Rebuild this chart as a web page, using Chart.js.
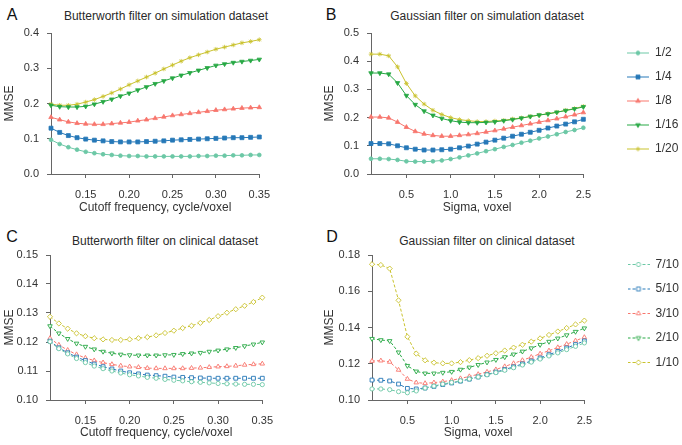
<!DOCTYPE html>
<html><head><meta charset="utf-8">
<script src="https://cdn.jsdelivr.net/npm/chart.js@4/dist/chart.umd.min.js"></script>
<style>
html,body{margin:0;padding:0;background:#fff;}
#wrap{position:relative;width:682px;height:445px;overflow:hidden;font-family:"Liberation Sans",Arial,sans-serif;color:#222;}
canvas{position:absolute;}
.lbl{position:absolute;transform:translate(-50%,-50%);white-space:nowrap;line-height:1;}
.letter{font-size:16px;color:#111;}
.ptitle{font-size:12px;color:#2a2a2a;}
</style></head><body>
<div id="wrap">
<div class="lbl letter" style="left:12px;top:15px">A</div>
<div class="lbl letter" style="left:331px;top:15px">B</div>
<div class="lbl letter" style="left:12px;top:237px">C</div>
<div class="lbl letter" style="left:332px;top:237px">D</div>
<div class="lbl ptitle" style="left:166px;top:15.5px">Butterworth filter on simulation dataset</div>
<div class="lbl ptitle" style="left:487px;top:15.5px">Gaussian filter on simulation dataset</div>
<div class="lbl ptitle" style="left:165px;top:240.5px">Butterworth filter on clinical dataset</div>
<div class="lbl ptitle" style="left:487px;top:240.5px">Gaussian filter on clinical dataset</div>
<canvas id="cA" width="280" height="215" style="left:0;top:0"></canvas>
<canvas id="cB" width="281" height="215" style="left:320px;top:0"></canvas>
<canvas id="cC" width="283" height="220" style="left:0;top:220px"></canvas>
<canvas id="cD" width="282" height="220" style="left:320px;top:220px"></canvas>
<canvas id="lg1" width="260" height="150" style="left:615px;top:35px"></canvas>
<canvas id="lg2" width="260" height="150" style="left:615px;top:246px"></canvas>
</div>
<script>
// ---------- categories / x values ----------
const xCutoff = [0.11,0.12,0.13,0.14,0.15,0.16,0.17,0.18,0.19,0.20,0.21,0.22,0.23,0.24,0.25,0.26,0.27,0.28,0.29,0.30,0.31,0.32,0.33,0.34,0.35];
const xSigma  = [0.1,0.2,0.3,0.4,0.5,0.6,0.7,0.8,0.9,1.0,1.1,1.2,1.3,1.4,1.5,1.6,1.7,1.8,1.9,2.0,2.1,2.2,2.3,2.4,2.5];

// ---------- tick labels ----------
const xTicksCutoff = [0.15,0.20,0.25,0.30,0.35];
const xTicksSigma  = [0.5,1.0,1.5,2.0,2.5];
const yTicksA = [0.0,0.1,0.2,0.3,0.4];
const yTicksB = [0.0,0.1,0.2,0.3,0.4,0.5];
const yTicksC = [0.10,0.11,0.12,0.13,0.14,0.15];
const yTicksD = [0.10,0.12,0.14,0.16,0.18];

// ---------- series names ----------
const simLabels = ['1/2','1/4','1/8','1/16','1/20'];
const cliLabels = ['7/10','5/10','3/10','2/10','1/10'];

// ---------- A: Butterworth, simulation ----------
const simBw_1_2  = [0.097,0.085,0.076,0.069,0.063,0.059,0.056,0.054,0.052,0.051,0.051,0.050,0.050,0.050,0.050,0.050,0.050,0.051,0.051,0.052,0.052,0.053,0.053,0.054,0.054];
const simBw_1_4  = [0.130,0.118,0.109,0.103,0.099,0.096,0.094,0.092,0.091,0.091,0.091,0.092,0.093,0.094,0.096,0.097,0.098,0.099,0.100,0.101,0.102,0.103,0.103,0.104,0.105];
const simBw_1_8  = [0.161,0.154,0.148,0.144,0.142,0.141,0.141,0.143,0.145,0.147,0.151,0.154,0.158,0.162,0.166,0.169,0.172,0.175,0.178,0.181,0.183,0.185,0.187,0.188,0.189];
const simBw_1_16 = [0.195,0.191,0.190,0.190,0.192,0.198,0.205,0.212,0.221,0.229,0.238,0.247,0.256,0.264,0.272,0.280,0.287,0.294,0.301,0.308,0.312,0.316,0.319,0.322,0.325];
const simBw_1_20 = [0.198,0.195,0.195,0.198,0.204,0.211,0.220,0.230,0.241,0.253,0.264,0.275,0.286,0.298,0.309,0.320,0.330,0.338,0.346,0.354,0.360,0.366,0.372,0.376,0.381];

// ---------- B: Gaussian, simulation ----------
const simGs_1_2  = [0.054,0.054,0.053,0.050,0.045,0.044,0.044,0.045,0.048,0.053,0.059,0.066,0.073,0.081,0.088,0.096,0.103,0.111,0.118,0.126,0.133,0.141,0.149,0.156,0.164];
const simGs_1_4  = [0.108,0.108,0.107,0.100,0.093,0.088,0.085,0.085,0.086,0.088,0.093,0.099,0.106,0.113,0.120,0.127,0.134,0.141,0.148,0.155,0.163,0.170,0.177,0.185,0.194];
const simGs_1_8  = [0.202,0.202,0.199,0.184,0.166,0.151,0.142,0.137,0.134,0.134,0.137,0.140,0.144,0.149,0.154,0.160,0.166,0.172,0.178,0.184,0.190,0.196,0.203,0.210,0.218];
const simGs_1_16 = [0.358,0.358,0.354,0.323,0.278,0.246,0.223,0.208,0.197,0.189,0.184,0.182,0.182,0.183,0.185,0.189,0.193,0.198,0.204,0.209,0.213,0.219,0.225,0.231,0.238];
const simGs_1_20 = [0.425,0.425,0.419,0.380,0.321,0.277,0.248,0.226,0.211,0.200,0.193,0.189,0.186,0.186,0.188,0.190,0.195,0.199,0.204,0.209,0.214,0.219,0.226,0.232,0.240];

// ---------- C: Butterworth, clinical ----------
const cliBw_7_10 = [0.1201,0.1177,0.1159,0.1143,0.1129,0.1117,0.1108,0.1100,0.1093,0.1087,0.1083,0.1078,0.1075,0.1071,0.1068,0.1066,0.1063,0.1061,0.1059,0.1057,0.1056,0.1055,0.1054,0.1054,0.1053];
const cliBw_5_10 = [0.1203,0.1180,0.1163,0.1148,0.1136,0.1124,0.1115,0.1107,0.1100,0.1094,0.1090,0.1086,0.1084,0.1082,0.1079,0.1078,0.1077,0.1076,0.1075,0.1075,0.1075,0.1075,0.1075,0.1075,0.1075];
const cliBw_3_10 = [0.1213,0.1190,0.1172,0.1157,0.1145,0.1136,0.1129,0.1123,0.1118,0.1115,0.1113,0.1110,0.1109,0.1109,0.1109,0.1109,0.1110,0.1111,0.1113,0.1115,0.1116,0.1118,0.1121,0.1123,0.1125];
const cliBw_2_10 = [0.1255,0.1230,0.1211,0.1195,0.1184,0.1175,0.1167,0.1161,0.1157,0.1155,0.1154,0.1154,0.1154,0.1155,0.1156,0.1159,0.1161,0.1163,0.1167,0.1171,0.1175,0.1180,0.1186,0.1192,0.1199];
const cliBw_1_10 = [0.1287,0.1264,0.1246,0.1230,0.1220,0.1213,0.1209,0.1207,0.1207,0.1209,0.1213,0.1217,0.1223,0.1231,0.1239,0.1248,0.1256,0.1266,0.1276,0.1289,0.1301,0.1313,0.1325,0.1338,0.1353];

// ---------- D: Gaussian, clinical ----------
const cliGs_7_10 = [0.1061,0.1061,0.1057,0.1046,0.1040,0.1050,0.1066,0.1077,0.1088,0.1097,0.1106,0.1116,0.1127,0.1139,0.1151,0.1164,0.1178,0.1193,0.1209,0.1226,0.1243,0.1260,0.1278,0.1296,0.1315];
const cliGs_5_10 = [0.1110,0.1109,0.1105,0.1088,0.1064,0.1061,0.1066,0.1075,0.1085,0.1094,0.1104,0.1115,0.1127,0.1140,0.1154,0.1168,0.1183,0.1199,0.1215,0.1232,0.1250,0.1268,0.1287,0.1306,0.1326];
const cliGs_3_10 = [0.1215,0.1217,0.1210,0.1166,0.1116,0.1096,0.1092,0.1096,0.1101,0.1109,0.1119,0.1130,0.1142,0.1155,0.1168,0.1185,0.1202,0.1219,0.1237,0.1255,0.1272,0.1290,0.1308,0.1327,0.1346];
const cliGs_2_10 = [0.1338,0.1331,0.1326,0.1263,0.1189,0.1158,0.1147,0.1147,0.1151,0.1156,0.1168,0.1180,0.1194,0.1208,0.1222,0.1237,0.1252,0.1268,0.1286,0.1305,0.1322,0.1340,0.1358,0.1377,0.1396];
const cliGs_1_10 = [0.1749,0.1745,0.1725,0.1550,0.1349,0.1256,0.1219,0.1206,0.1202,0.1202,0.1209,0.1220,0.1231,0.1244,0.1258,0.1273,0.1289,0.1305,0.1322,0.1340,0.1359,0.1378,0.1397,0.1417,0.1438];

// ---------- styling ----------
const colors = ['#6cc8a6','#2678b8','#f8766d','#27a844','#c9c22d'];
const simStyles = [
  {ps:'circle', r:1.9, rot:0}, {ps:'rect', r:2.8, rot:0}, {ps:'triangle', r:2.6, rot:0},
  {ps:'triangle', r:2.6, rot:180}, {ps:'star', r:2.3, rot:0}
];
const cliStyles = [
  {ps:'circle', r:2.1, rot:0}, {ps:'rect', r:2.7, rot:0}, {ps:'triangle', r:2.6, rot:0},
  {ps:'triangle', r:2.6, rot:180}, {ps:'rectRot', r:2.6, rot:0}
];

Chart.defaults.font.family = '"Liberation Sans", Arial, sans-serif';
Chart.defaults.color = '#333';

function datasets(xs, series, labels, styles, dashed) {
  return series.map((vals, i) => ({
    label: labels[i],
    data: xs.map((x, j) => ({x: x, y: vals[j]})),
    borderColor: colors[i],
    borderWidth: 1,
    borderDash: dashed ? [3, 2] : [],
    pointStyle: styles[i].ps,
    pointRadius: styles[i].r,
    pointRotation: styles[i].rot,
    pointBackgroundColor: dashed ? '#ffffff' : colors[i],
    pointBorderColor: colors[i],
    pointBorderWidth: dashed ? 0.9 : 0.8,
    pointHoverRadius: styles[i].r,
    tension: 0,
    fill: false,
    clip: false
  }));
}

function makeChart(id, xs, series, labels, styles, dashed, cfg) {
  new Chart(document.getElementById(id), {
    type: 'line',
    data: {datasets: datasets(xs, series, labels, styles, dashed)},
    options: {
      responsive: false, animation: false, devicePixelRatio: 1,
      layout: {padding: {top: cfg.padTop, right: cfg.padRight, left: 0, bottom: 0}},
      plugins: {legend: {display: false}, tooltip: {enabled: false}, title: {display: false}},
      scales: {
        x: {
          type: 'linear', min: cfg.xMin, max: cfg.xMax,
          afterBuildTicks: s => { s.ticks = cfg.xTicks.map(v => ({value: v})); },
          afterFit: s => { s.height = cfg.xH; },
          ticks: {callback: v => Number(v).toFixed(cfg.xDec), font: {size: 11}, color: '#333', padding: 10, autoSkip: false, maxRotation: 0},
          grid: {drawOnChartArea: false, drawTicks: true, tickLength: 4, color: '#666'},
          border: {display: true, color: '#666', width: 1},
          title: {display: true, text: cfg.xTitle, font: {size: 12}, color: '#333', padding: {top: 0, bottom: 0}}
        },
        y: {
          type: 'linear', min: cfg.yMin, max: cfg.yMax,
          afterBuildTicks: s => { s.ticks = cfg.yTicks.map(v => ({value: v})); },
          afterFit: s => { s.width = cfg.yW; },
          ticks: {callback: v => Number(v).toFixed(cfg.yDec), font: {size: 11}, color: '#333', padding: 8, autoSkip: false},
          grid: {drawOnChartArea: false, drawTicks: true, tickLength: 4, color: '#666'},
          border: {display: true, color: '#666', width: 1},
          title: {display: true, text: 'MMSE', font: {size: 12}, color: '#333', padding: {top: 2, bottom: 0}}
        }
      }
    }
  });
}

makeChart('cA', xCutoff, [simBw_1_2, simBw_1_4, simBw_1_8, simBw_1_16, simBw_1_20], simLabels, simStyles, false,
  {xMin: 0.11, xMax: 0.35, yMin: 0, yMax: 0.4, xTicks: xTicksCutoff, yTicks: yTicksA, xDec: 2, yDec: 1,
   xTitle: 'Cutoff frequency, cycle/voxel', yW: 51, xH: 41, padTop: 33, padRight: 14});
makeChart('cB', xSigma, [simGs_1_2, simGs_1_4, simGs_1_8, simGs_1_16, simGs_1_20], simLabels, simStyles, false,
  {xMin: 0.1, xMax: 2.5, yMin: 0, yMax: 0.5, xTicks: xTicksSigma, yTicks: yTicksB, xDec: 1, yDec: 1,
   xTitle: 'Sigma, voxel', yW: 51, xH: 41, padTop: 33, padRight: 14});
makeChart('cC', xCutoff, [cliBw_7_10, cliBw_5_10, cliBw_3_10, cliBw_2_10, cliBw_1_10], cliLabels, cliStyles, true,
  {xMin: 0.11, xMax: 0.35, yMin: 0.10, yMax: 0.15, xTicks: xTicksCutoff, yTicks: yTicksC, xDec: 2, yDec: 2,
   xTitle: 'Cutoff frequency, cycle/voxel', yW: 50, xH: 40, padTop: 35, padRight: 14});
makeChart('cD', xSigma, [cliGs_7_10, cliGs_5_10, cliGs_3_10, cliGs_2_10, cliGs_1_10], cliLabels, cliStyles, true,
  {xMin: 0.1, xMax: 2.5, yMin: 0.10, yMax: 0.18, xTicks: xTicksSigma, yTicks: yTicksD, xDec: 1, yDec: 2,
   xTitle: 'Sigma, voxel', yW: 52, xH: 40, padTop: 35, padRight: 14});

// ---------- legends (Chart.js legend with line+marker symbols) ----------
function symbol(color, st, dashed) {
  const c = document.createElement('canvas');
  c.width = 22; c.height = 11;
  const g = c.getContext('2d');
  g.strokeStyle = color; g.lineWidth = 1;
  if (dashed) g.setLineDash([3, 2]);
  g.beginPath(); g.moveTo(0, 5.5); g.lineTo(22, 5.5); g.stroke();
  g.setLineDash([]);
  g.fillStyle = dashed ? '#ffffff' : color;
  g.lineWidth = dashed ? 0.9 : 0.8;
  if (Chart.helpers && Chart.helpers.drawPoint) {
    Chart.helpers.drawPoint(g, {pointStyle: st.ps, radius: st.r, rotation: st.rot, borderWidth: g.lineWidth}, 11, 5.5);
  } else {
    g.beginPath(); g.arc(11, 5.5, st.r, 0, Math.PI * 2); g.fill(); g.stroke();
  }
  return c;
}

function makeLegend(id, labels, styles, dashed, pad) {
  const imgs = labels.map((l, i) => symbol(colors[i], styles[i], dashed));
  new Chart(document.getElementById(id), {
    type: 'line',
    data: {datasets: labels.map((l, i) => ({label: l, data: [], borderColor: colors[i]}))},
    options: {
      responsive: false, animation: false, devicePixelRatio: 1,
      layout: {padding: 0},
      scales: {x: {display: false}, y: {display: false}},
      plugins: {
        tooltip: {enabled: false},
        legend: {
          display: true, position: 'left', align: 'start',
          labels: {
            usePointStyle: true, pointStyleWidth: 22, padding: pad, color: '#333', font: {size: 12},
            generateLabels: chart => chart.data.datasets.map((ds, i) => ({
              text: ds.label, pointStyle: imgs[i], fillStyle: colors[i], strokeStyle: colors[i],
              lineWidth: 0, hidden: false, datasetIndex: i, fontColor: '#333'
            }))
          }
        }
      }
    }
  });
}
makeLegend('lg1', simLabels, simStyles, false, 12);
makeLegend('lg2', cliLabels, cliStyles, true, 12.5);
</script>
</body></html>
